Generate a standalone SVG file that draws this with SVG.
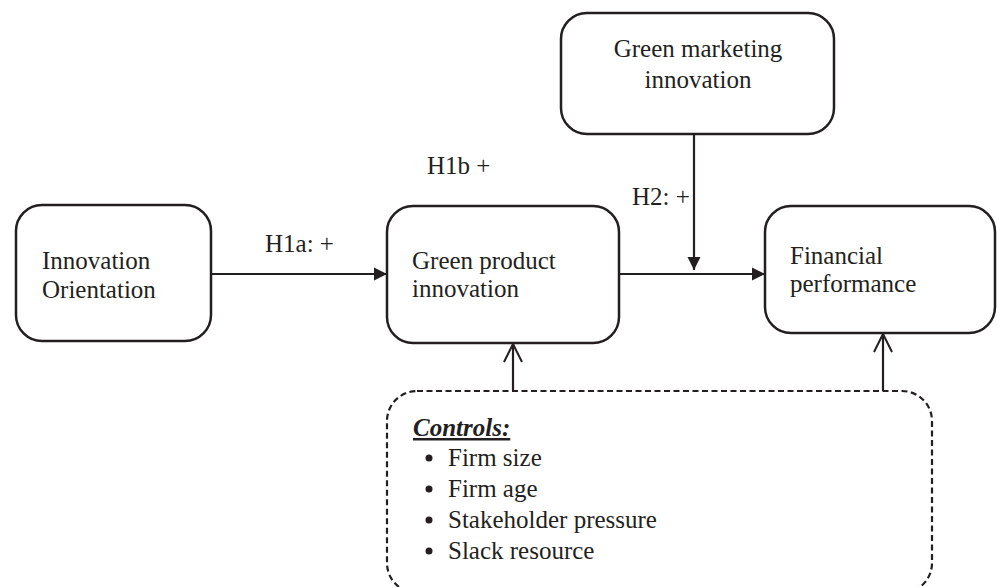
<svg xmlns="http://www.w3.org/2000/svg" width="997" height="587" viewBox="0 0 997 587">
<style>
text{font-family:"Liberation Serif","Times New Roman",serif;font-size:25px;fill:#231f20}
.box{fill:#fff;stroke:#231f20;stroke-width:2.5}
.dash{fill:none;stroke:#231f20;stroke-width:2.2;stroke-dasharray:6 3.5}
.ln{fill:none;stroke:#231f20;stroke-width:2.2}
.ctl{font-weight:bold;font-style:italic;text-decoration:underline}
</style>
<defs>
<marker id="fill" markerWidth="14" markerHeight="14" refX="13" refY="7" orient="auto" markerUnits="userSpaceOnUse">
<path d="M0,0.5 L13,7 L0,13.5 Z" fill="#231f20"/>
</marker>
<marker id="open" markerWidth="22" markerHeight="22" refX="19" refY="10" orient="auto" markerUnits="userSpaceOnUse">
<path d="M1,1 L19,10 L1,19" fill="none" stroke="#231f20" stroke-width="2"/>
</marker>
</defs>
<rect width="997" height="587" fill="#fff"/>
<g id="connectors">
<line class="ln" x1="211" y1="274" x2="387" y2="274" marker-end="url(#fill)"/>
<line class="ln" x1="619" y1="274" x2="765" y2="274" marker-end="url(#fill)"/>
<line class="ln" x1="694" y1="134" x2="694" y2="270" marker-end="url(#fill)"/>
<line class="ln" x1="513" y1="391" x2="513" y2="344" marker-end="url(#open)"/>
<line class="ln" x1="883" y1="391" x2="883" y2="334" marker-end="url(#open)"/>
<text x="265" y="252">H1a: +</text>
<text x="427" y="174">H1b +</text>
<text x="632" y="205">H2: +</text>
</g>
<g id="innovation-orientation">
<rect class="box" x="16" y="205" width="195" height="136" rx="26"/>
<text x="42" y="269">Innovation</text>
<text x="42" y="298">Orientation</text>
</g>
<g id="green-product-innovation">
<rect class="box" x="387" y="206" width="232" height="137" rx="26"/>
<text x="412" y="269">Green product</text>
<text x="412" y="297">innovation</text>
</g>
<g id="green-marketing-innovation">
<rect class="box" x="561" y="13" width="273" height="121" rx="26"/>
<text x="698" y="57" text-anchor="middle">Green marketing</text>
<text x="698" y="88" text-anchor="middle">innovation</text>
</g>
<g id="financial-performance">
<rect class="box" x="765" y="206" width="230" height="127" rx="26"/>
<text x="790" y="264">Financial</text>
<text x="790" y="292">performance</text>
</g>
<g id="controls">
<rect class="dash" x="387" y="391" width="545" height="202" rx="30"/>
<text class="ctl" x="413" y="436">Controls:</text>
<circle cx="429" cy="458" r="3.5" fill="#231f20"/>
<text x="448" y="466">Firm size</text>
<circle cx="429" cy="489" r="3.5" fill="#231f20"/>
<text x="448" y="497">Firm age</text>
<circle cx="429" cy="520" r="3.5" fill="#231f20"/>
<text x="448" y="528">Stakeholder pressure</text>
<circle cx="429" cy="551" r="3.5" fill="#231f20"/>
<text x="448" y="559">Slack resource</text>
</g>
</svg>
